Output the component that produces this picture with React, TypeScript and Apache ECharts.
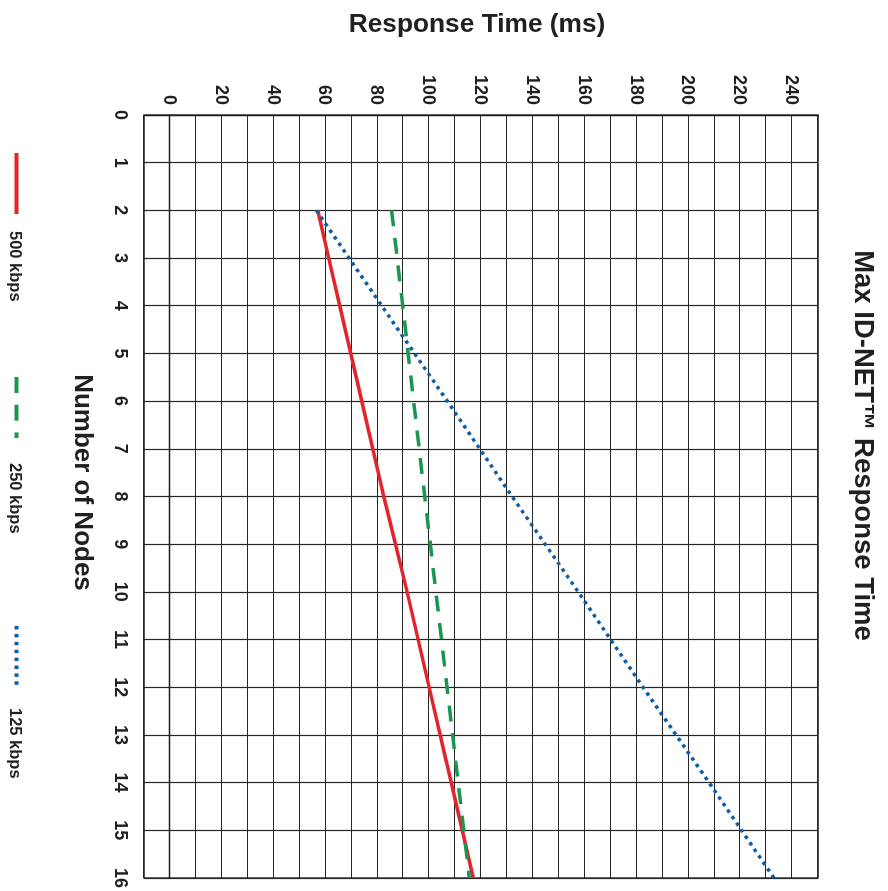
import React, { useEffect, useRef } from "react";
import * as echarts from "echarts";

const nodeCounts = [2, 4, 6, 8, 10, 12, 14, 16];
const rt500 = [57, 65.5, 74, 82.5, 91.5, 100, 108.5, 117];
const rt250 = [85.5, 89.8, 94, 98.3, 102.6, 106.9, 111.2, 115.5];
const rt125 = [56.5, 81.7, 107, 132, 157.5, 182.5, 208, 233];
const seriesNames = ["500 kbps", "250 kbps", "125 kbps"];
const yTickLabels = [0, 20, 40, 60, 80, 100, 120, 140, 160, 180, 200, 220, 240];

const FONT = "'Liberation Sans', Arial, Helvetica, sans-serif";
const TXT = "#231f20";

export default function App() {
  const ref = useRef<HTMLDivElement>(null);
  useEffect(() => {
    if (!ref.current) return;
    const chart = echarts.init(ref.current, undefined, { renderer: "svg" });
    const pairs = (vals: number[]) => nodeCounts.map((n, i) => [n, vals[i]]);
    const legendPos = [151, 375, 624];
    const legendPad = [12, 20, 16];
    chart.setOption({
      animation: false,
      backgroundColor: "#ffffff",
      textStyle: { fontFamily: FONT, fontWeight: "bold", color: TXT },
      title: {
        text: "Max ID-NET™ Response Time",
        left: "center",
        top: 4,
        textStyle: { fontFamily: FONT, fontWeight: "bold", fontSize: 27.5, color: TXT },
      },
      legend: seriesNames.map((name, i) => ({
        data: [name],
        left: legendPos[i],
        bottom: 8,
        padding: 0,
        itemWidth: 61,
        itemHeight: 14,
        itemStyle: { opacity: 0 },
        lineStyle: { width: 4 },
        textStyle: {
          fontFamily: FONT,
          fontWeight: "bold",
          fontSize: 16.5,
          color: TXT,
          padding: [0, 0, 0, legendPad[i]],
        },
      })),
      grid: {
        left: 115,
        right: 11,
        top: 70,
        bottom: 144,
        show: true,
        borderColor: "#1e1e1e",
        borderWidth: 1.3,
        backgroundColor: "transparent",
      },
      xAxis: {
        type: "value",
        min: 0,
        max: 16,
        interval: 1,
        name: "Number of Nodes",
        nameLocation: "middle",
        nameGap: 47,
        nameTextStyle: {
          fontFamily: FONT,
          fontWeight: "bold",
          fontSize: 26,
          color: TXT,
          padding: [0, 28, 0, 0],
        },
        axisLine: { show: true, lineStyle: { color: "#1e1e1e", width: 1.3 } },
        axisTick: { show: false },
        axisLabel: { margin: 14, fontFamily: FONT, fontWeight: "bold", fontSize: 18, color: TXT },
        splitLine: { show: true, lineStyle: { color: "#262626", width: 1.2 } },
      },
      yAxis: {
        type: "value",
        min: -10,
        max: 250,
        interval: 10,
        name: "Response Time (ms)",
        nameLocation: "middle",
        nameGap: 79,
        nameTextStyle: {
          fontFamily: FONT,
          fontWeight: "bold",
          fontSize: 26.3,
          color: TXT,
          padding: [0, 8, 0, 0],
        },
        axisLine: { show: true, lineStyle: { color: "#1e1e1e", width: 1.3 } },
        axisTick: { show: false },
        axisLabel: {
          margin: 10,
          fontFamily: FONT,
          fontWeight: "bold",
          fontSize: 18,
          color: TXT,
          formatter: (v: number) =>
            yTickLabels.indexOf(Math.round(v)) >= 0 ? String(Math.round(v)) : "",
        },
        splitLine: { show: true, lineStyle: { color: "#262626", width: 1.2 } },
      },
      series: [
        {
          name: seriesNames[0],
          type: "line",
          data: pairs(rt500),
          symbol: "none",
          color: "#e3242b",
          lineStyle: { color: "#e3242b", width: 3.5, type: "solid" },
          z: 3,
        },
        {
          name: seriesNames[1],
          type: "line",
          data: pairs(rt250),
          symbol: "none",
          color: "#1a9651",
          lineStyle: { color: "#1a9651", width: 3.5, type: [16, 11.7], cap: "butt" },
          z: 4,
        },
        {
          name: seriesNames[2],
          type: "line",
          data: pairs(rt125),
          symbol: "none",
          color: "#0d5ea6",
          lineStyle: { color: "#0d5ea6", width: 3.5, type: [3.5, 4.4], cap: "butt" },
          z: 5,
        },
      ],
    });
    return () => chart.dispose();
  }, []);

  return (
    <div
      style={{
        position: "fixed",
        left: 0,
        top: 0,
        width: 891,
        height: 888,
        transformOrigin: "0 0",
        transform: "translateX(888px) rotate(90deg)",
        background: "#fff",
      }}
    >
      <div ref={ref} style={{ width: 891, height: 888 }} />
    </div>
  );
}
